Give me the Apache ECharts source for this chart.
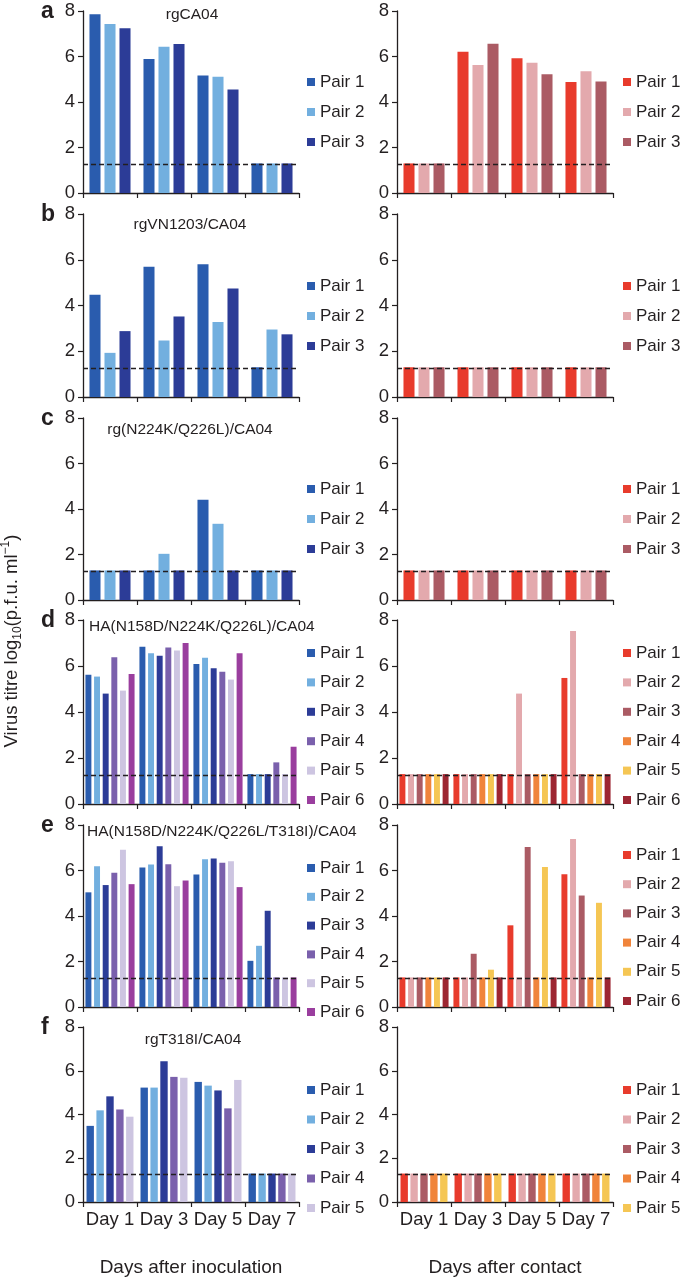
<!DOCTYPE html>
<html>
<head>
<meta charset="utf-8">
<script src="https://cdn.jsdelivr.net/npm/echarts@6/dist/echarts.min.js"></script>
<style>
  html, body { margin: 0; padding: 0; background: #fff; }
  #chart { width: 685px; height: 1278px; }
</style>
</head>
<body>
<div id="chart"></div>
<script>
// ---------------- DATA ----------------
const days = ['Day 1', 'Day 3', 'Day 5', 'Day 7'];
const pairNames = ['Pair 1', 'Pair 2', 'Pair 3', 'Pair 4', 'Pair 5', 'Pair 6'];
const yTickValues = [0, 2, 4, 6, 8];
const detectionLimit = 1.25;

const panelLetters = ['a', 'b', 'c', 'd', 'e', 'f'];
const panelTitles = ['rgCA04', 'rgVN1203/CA04', 'rg(N224K/Q226L)/CA04',
  'HA(N158D/N224K/Q226L)/CA04', 'HA(N158D/N224K/Q226L/T318I)/CA04', 'rgT318I/CA04'];

// each row of a panel array = one pair, values for Day 1, 3, 5, 7
const aInoculation = [[7.86, 5.89, 5.17, 1.3], [7.43, 6.43, 5.11, 1.3], [7.24, 6.55, 4.55, 1.3]];
const aContact = [[1.3, 6.21, 5.92, 4.88], [1.3, 5.63, 5.73, 5.35], [1.3, 6.56, 5.22, 4.90]];

const bInoculation = [[4.47, 5.69, 5.80, 1.3], [1.93, 2.47, 3.28, 2.95], [2.88, 3.52, 4.74, 2.74]];
const bContact = [[1.3, 1.3, 1.3, 1.3], [1.3, 1.3, 1.3, 1.3], [1.3, 1.3, 1.3, 1.3]];

const cInoculation = [[1.3, 1.3, 4.41, 1.3], [1.3, 2.03, 3.35, 1.3], [1.3, 1.3, 1.3, 1.3]];
const cContact = [[1.3, 1.3, 1.3, 1.3], [1.3, 1.3, 1.3, 1.3], [1.3, 1.3, 1.3, 1.3]];

const dInoculation = [
  [5.62, 6.84, 6.09, 1.3],
  [5.54, 6.55, 6.36, 1.3],
  [4.80, 6.45, 5.90, 1.3],
  [6.38, 6.80, 5.75, 1.81],
  [4.93, 6.67, 5.41, 1.3],
  [5.65, 7.00, 6.55, 2.49]];
const dContact = [
  [1.3, 1.3, 1.3, 5.48],
  [1.3, 1.3, 4.80, 7.52],
  [1.3, 1.3, 1.3, 1.3],
  [1.3, 1.3, 1.3, 1.3],
  [1.3, 1.3, 1.3, 1.3],
  [1.3, 1.3, 1.3, 1.3]];

const eInoculation = [
  [5.04, 6.13, 5.82, 2.03],
  [6.19, 6.26, 6.50, 2.69],
  [5.36, 7.07, 6.53, 4.23],
  [5.90, 6.28, 6.34, 1.3],
  [6.91, 5.31, 6.41, 1.3],
  [5.40, 5.56, 5.27, 1.3]];
const eContact = [
  [1.3, 1.3, 3.59, 5.83],
  [1.3, 1.3, 1.3, 7.39],
  [1.3, 2.34, 7.03, 4.90],
  [1.3, 1.3, 1.3, 1.3],
  [1.3, 1.64, 6.15, 4.58],
  [1.3, 1.3, 1.3, 1.3]];

const fInoculation = [
  [3.48, 5.23, 5.49, 1.3],
  [4.19, 5.23, 5.32, 1.3],
  [4.83, 6.43, 5.10, 1.3],
  [4.23, 5.72, 4.28, 1.3],
  [3.90, 5.68, 5.58, 1.3]];
const fContact = [
  [1.3, 1.3, 1.3, 1.3],
  [1.3, 1.3, 1.3, 1.3],
  [1.3, 1.3, 1.3, 1.3],
  [1.3, 1.3, 1.3, 1.3],
  [1.3, 1.3, 1.3, 1.3]];

const inoculationData = [aInoculation, bInoculation, cInoculation, dInoculation, eInoculation, fInoculation];
const contactData = [aContact, bContact, cContact, dContact, eContact, fContact];

// ---------------- STYLE / LAYOUT ----------------
const blueColors = ['#2a5cae', '#72afdf', '#2c3c97', '#7a60ac', '#cdc5e1', '#9a3e9e'];
const redColors = ['#e83b2c', '#e3a9ad', '#ab5b64', '#f0843b', '#f5c654', '#9d2632'];
const FONT = '"Liberation Sans", Arial, Helvetica, sans-serif';
const TXT = '#231f20';

const rowLayout = [
  { top: 11,   height: 182, legL: 72,   gapL: 10,  legR: 72,   gapR: 10,  titleX: 192, titleY: 15,   titleAlign: 'center' },
  { top: 214,  height: 183, legL: 276,  gapL: 10,  legR: 276,  gapR: 10,  titleX: 190, titleY: 225,  titleAlign: 'center' },
  { top: 418,  height: 182, legL: 479,  gapL: 10,  legR: 479,  gapR: 10,  titleX: 190, titleY: 430,  titleAlign: 'center' },
  { top: 620,  height: 184, legL: 643,  gapL: 9.4, legR: 643,  gapR: 9.4, titleX: 89,  titleY: 627,  titleAlign: 'left' },
  { top: 825,  height: 182, legL: 858,  gapL: 8.8, legR: 845,  gapR: 9.2, titleX: 87,  titleY: 832,  titleAlign: 'left' },
  { top: 1027, height: 184, legL: 1080, gapL: 9.5, legR: 1080, gapR: 9.5, titleX: 193, titleY: 1040, titleAlign: 'center' }
];
const colLayout = [
  { left: 83, width: 216, legendLeft: 307 },
  { left: 397, width: 216, legendLeft: 623 }
];
function gapsFor(n) {
  if (n === 3) return { cat: '24%', bar: '36%' };
  if (n === 5) return { cat: '13%', bar: '34%' };
  return { cat: '9%', bar: '45%' };
}

// ---------------- BUILD OPTION ----------------
const grids = [], xAxes = [], yAxes = [], series = [], legends = [], graphics = [];

for (let r = 0; r < 6; r++) {
  const L = rowLayout[r];
  for (let c = 0; c < 2; c++) {
    const C = colLayout[c];
    const idx = r * 2 + c;
    const data = c === 0 ? inoculationData[r] : contactData[r];
    const colors = c === 0 ? blueColors : redColors;
    const n = data.length;
    const g = gapsFor(n);
    const lastRow = r === 5;

    grids.push({ left: C.left, top: L.top, width: C.width, height: L.height, containLabel: false });
    xAxes.push({
      type: 'category', gridIndex: idx, data: days, boundaryGap: true,
      axisLine: { show: true, lineStyle: { color: '#231f20', width: 1.3 } },
      axisTick: { show: true, length: 5, inside: false, alignWithLabel: false, lineStyle: { color: '#231f20', width: 1.2 } },
      axisLabel: { show: lastRow, margin: 8, fontSize: 18.5, color: TXT, fontFamily: FONT, interval: 0 },
      splitLine: { show: false },
      name: lastRow ? (c === 0 ? 'Days after inoculation' : 'Days after contact') : '',
      nameLocation: 'middle', nameGap: 56,
      nameTextStyle: { fontSize: 19, color: TXT, fontFamily: FONT }
    });
    yAxes.push({
      type: 'value', gridIndex: idx, min: yTickValues[0], max: yTickValues[yTickValues.length - 1], interval: 2,
      axisLine: { show: true, lineStyle: { color: '#231f20', width: 1.3 } },
      axisTick: { show: true, length: 5, lineStyle: { color: '#231f20', width: 1.2 } },
      axisLabel: { show: true, margin: 8, fontSize: 18.5, color: TXT, fontFamily: FONT },
      splitLine: { show: false }
    });

    for (let i = 0; i < n; i++) {
      const s = {
        type: 'bar', name: pairNames[i], xAxisIndex: idx, yAxisIndex: idx,
        data: data[i], itemStyle: { color: colors[i] },
        barGap: g.bar, barCategoryGap: g.cat, silent: true
      };
      if (i === 0) {
        s.markLine = {
          silent: true, symbol: 'none', label: { show: false }, z: 10,
          lineStyle: { color: '#231f20', type: [5, 3], width: 1.3 },
          data: [{ yAxis: detectionLimit }]
        };
      }
      series.push(s);
    }

    legends.push({
      orient: 'vertical', left: C.legendLeft, top: c === 0 ? L.legL : L.legR,
      itemGap: c === 0 ? L.gapL : L.gapR, itemWidth: 8, itemHeight: 8, padding: 0,
      selectedMode: false, icon: 'rect',
      textStyle: { fontSize: 17, color: TXT, fontFamily: FONT, lineHeight: 20 },
      data: pairNames.slice(0, n).map((p, i) => ({ name: p, icon: 'rect', itemStyle: { color: colors[i] } }))
    });
  }

  // panel letter
  graphics.push({
    type: 'text', x: 41, y: L.top + 1,
    style: { text: panelLetters[r], fontSize: 23, fontWeight: 'bold', fontFamily: FONT, fill: TXT, align: 'left', verticalAlign: 'middle' }
  });
  // panel title
  graphics.push({
    type: 'text', x: L.titleX, y: L.titleY,
    style: { text: panelTitles[r], fontSize: 15.5, fontFamily: FONT, fill: TXT, align: L.titleAlign, verticalAlign: 'middle' }
  });
}

// y-axis title
graphics.push({
  type: 'text', x: 12, y: 641, rotation: Math.PI / 2,
  style: {
    text: '{a|Virus titre log}{s|10}{a|(p.f.u. ml}{p|−1}{a|)}',
    align: 'center', verticalAlign: 'middle', fill: TXT,
    rich: {
      a: { fontSize: 18.5, fontFamily: FONT, fill: TXT, lineHeight: 24 },
      s: { fontSize: 12, fontFamily: FONT, fill: TXT, lineHeight: 14, verticalAlign: 'bottom' },
      p: { fontSize: 12, fontFamily: FONT, fill: TXT, lineHeight: 14, verticalAlign: 'top' }
    }
  }
});

const chart = echarts.init(document.getElementById('chart'), null, { renderer: 'canvas' });
chart.setOption({
  animation: false,
  backgroundColor: '#ffffff',
  textStyle: { fontFamily: FONT },
  grid: grids, xAxis: xAxes, yAxis: yAxes, series: series, legend: legends, graphic: graphics
});
</script>
</body>
</html>
